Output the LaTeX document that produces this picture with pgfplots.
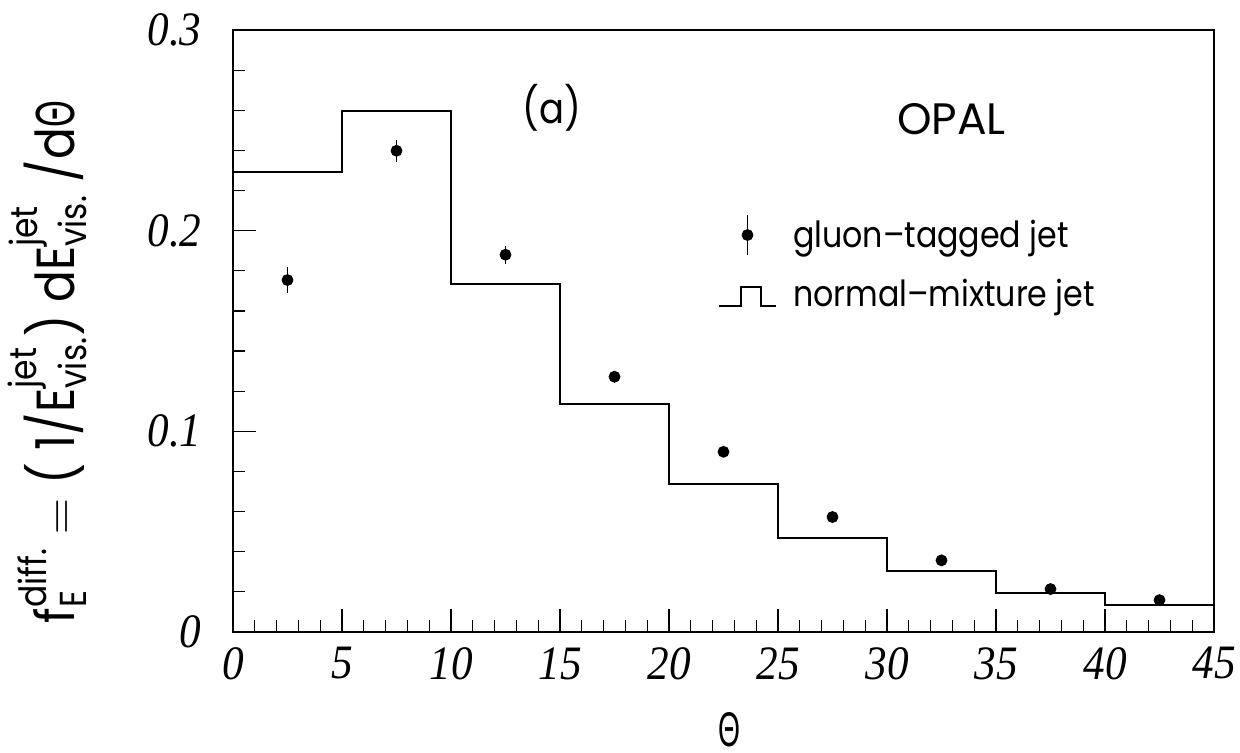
\documentclass[border=0pt]{standalone}
\usepackage{fontspec}
\usepackage{amsmath}
\usepackage{graphicx}
\usepackage{pgfplots}
\usepackage{pgfplotstable}
\pgfplotsset{compat=1.18}
\setmainfont{Poppins}
\newfontfamily\legfont[FakeStretch=0.88]{Poppins}
\newfontfamily\tickfont[FakeStretch=0.9]{Liberation Serif}
\newfontfamily\greekfont{Liberation Sans}
\newcommand\ThX{\resizebox{11pt}{17pt}{\greekfont Θ}}
\newcommand\ThY{\resizebox{0.5em}{0.72em}{\greekfont Θ}}

\pgfplotstableread{
x y e
2.5 0.1754 0.0063
7.5 0.2398 0.0056
12.5 0.1880 0.0045
17.5 0.1272 0.0030
22.5 0.0898 0.0020
27.5 0.0573 0.0015
32.5 0.0357 0.0010
37.5 0.0214 0.0010
42.5 0.0159 0.0010
}\gluon

\pgfplotstableread{
x y
0 0.2290
5 0.2595
10 0.1735
15 0.1135
20 0.0737
25 0.0467
30 0.0302
35 0.0193
40 0.0133
45 0.0133
}\mix

\begin{document}
\begin{tikzpicture}
\useasboundingbox (-116.5pt,-60.5pt) rectangle (503.5pt,316pt);
\begin{axis}[
  scale only axis, width=490.5pt, height=301pt,
  at={(0,0)}, anchor=south west,
  xmin=0, xmax=45, ymin=0, ymax=0.3,
  xtick={0,5,...,45}, ytick={0,0.1,0.2,0.3},
  xticklabels={0,5,10,15,20,25,30,35,40,45},
  yticklabels={0,0.1,0.2,0.3},
  minor x tick num=4, minor y tick num=4,
  tick pos=left, tick align=inside,
  major tick length=11.5pt, minor tick length=5.8pt,
  axis line style={line width=0.9pt},
  every tick/.style={black, line width=0.6pt},
  yticklabel style={font=\tickfont\itshape\fontsize{24}{24}\selectfont, anchor=east, inner sep=0pt, xshift=-15.5pt},
  xticklabel style={font=\tickfont\itshape\fontsize{24}{24}\selectfont, anchor=north, inner sep=0pt, yshift=-7.5pt},
  xlabel={\ThX},
  xlabel style={at={(axis description cs:0.5057,0)}, anchor=north, yshift=-40pt, inner sep=0pt},
  ylabel={$\text{f}^{\text{diff.}}_{\text{E}} = \text{( 1/E}^{\text{jet}}_{\text{vis.}}\text{) dE}^{\text{jet}}_{\text{vis.}}\text{ /d\ThY}$},
  ylabel style={at={(axis description cs:-0.162,0.448)}, anchor=base, inner sep=0pt, font=\legfont\fontsize{26.8}{26.8}\selectfont},
  legend style={draw=none, fill=none, inner sep=0pt, outer sep=0pt,
    at={(axis description cs:0.4944,0.694)}, anchor=north west,
    nodes={inner sep=0pt, font=\legfont\fontsize{18}{18}\selectfont},
    column sep=8pt, row sep=11.5pt},
  legend cell align=left,
]
\addplot[black, only marks, mark=*, mark size=2.75pt,
  error bars/.cd, y dir=both, y explicit, error mark=none,
  error bar style={line width=0.8pt},
  /pgfplots/legend image code/.code={
  \draw[black, line width=0.8pt] (14.25pt,-10pt) -- (14.25pt,10pt);
  \fill[black] (14.25pt,0pt) circle (2.75pt);},
  ] table[x=x, y=y, y error=e] {\gluon};
\addlegendentry{gluon–tagged jet}
\addplot[black, const plot, line width=1pt, mark=none,
  legend image code/.code={
  \draw[black, line width=1pt] (0pt,-6pt) -- (11pt,-6pt) -- (11pt,3.5pt) -- (21pt,3.5pt) -- (21pt,-6pt) -- (28.5pt,-6pt);}
  ] table[x=x, y=y] {\mix};
\addlegendentry{normal–mixture jet}
\node[font=\fontsize{22}{22}\selectfont] at (axis cs:32.96,0.2556) {OPAL};
\node[font=\legfont\fontsize{21}{21}\selectfont] at (axis cs:14.62,0.2613) {(a)};
\end{axis}
\end{tikzpicture}
\end{document}
